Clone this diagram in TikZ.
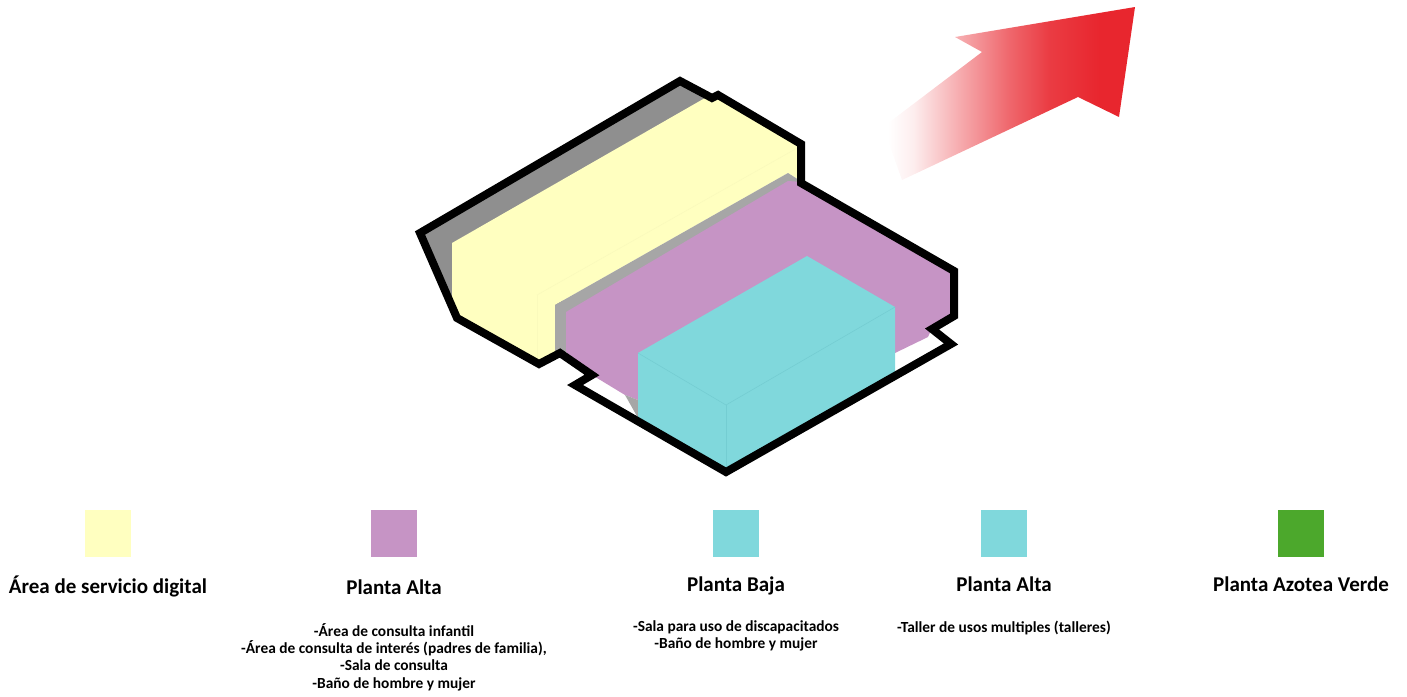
\documentclass[tikz,border=0pt]{standalone}
\usepackage{fontspec}
\setmainfont{Carlito}
\usepackage{xcolor}
\usetikzlibrary{positioning}

\definecolor{servyellow}{HTML}{FFFFC0}
\definecolor{altapurple}{HTML}{C694C5}
\definecolor{bajacyan}{HTML}{80D8DC}
\definecolor{edgecyan}{HTML}{74CDD2}
\definecolor{edgeyellow}{HTML}{FAFABC}
\definecolor{roofgray}{HTML}{8F8F8F}
\definecolor{stepgray}{HTML}{A6A6A6}
\definecolor{roofgreen}{HTML}{4CA82C}
\definecolor{arrowred}{HTML}{E8262E}

\pgfdeclarehorizontalshading{arrowfade}{100bp}{
    color(0bp)=(white); color(26bp)=(white); color(31bp)=(white!92!arrowred);
    color(40bp)=(white!62!arrowred); color(50bp)=(white!30!arrowred);
    color(58bp)=(white!10!arrowred); color(68bp)=(arrowred); color(100bp)=(arrowred)}

\begin{document}
\begin{tikzpicture}[
    x=1pt, y=-1pt,
    swatch/.style={minimum width=46pt, minimum height=47pt, inner sep=0pt, fill=#1},
    title/.style={font=\fontsize{21}{23}\selectfont\bfseries, inner sep=0pt},
    desc/.style={font=\fontsize{15.4}{17.3}\selectfont\bfseries, align=center, inner sep=0pt},
    outline/.style={draw=black, line width=8pt, line join=miter, miter limit=6},
    faint/.style={draw=#1, line width=0.6pt},
]
\useasboundingbox (0,0) rectangle (1407,696);

% --- Arrow ---
\shade[shading=arrowfade] (1135,7) -- (955,37) -- (982,52) -- (883,127) -- (902,180)
    -- (1078,97) -- (1119,117) -- cycle;

% --- Roof and yellow volume ---
\fill[roofgray] (420,232) -- (680,80) -- (716,98) -- (556,310) -- (456,318) -- cycle;
\fill[servyellow] (452,243) -- (705,98) -- (718,93) -- (802,144) -- (802,182)
    -- (788,173) -- (555,305) -- (555,353) -- (539,364) -- (456,318) -- (452,310) -- cycle;
\draw[faint=edgeyellow] (537,295) -- (799,147);
\draw[faint=edgeyellow] (537,295) -- (537,360);

% --- Purple volume ---
\fill[stepgray] (555,305) -- (788,173) -- (802,182) -- (566,352) -- (555,353) -- cycle;
\fill[altapurple] (566,312) -- (788,181) -- (802,182) -- (957,270) -- (957,317)
    -- (932,328) -- (928,337) -- (895,353) -- (800,400) -- (638,400) -- (625,395)
    -- (597,378) -- (593,376) -- (566,352) -- cycle;
\fill[stepgray] (625,395) -- (638,400) -- (638,418) -- cycle;

% --- Cyan volume ---
\fill[bajacyan] (638,353) -- (807,256) -- (895,307) -- (895,373) -- (726,472)
    -- (638,418) -- cycle;
\draw[faint=edgecyan] (638,353) -- (726,405) -- (895,307);
\draw[faint=edgecyan] (726,405) -- (726,472);

% --- Outline ---
\draw[outline] (420,233) -- (680,81) -- (712,98) -- (718,95) -- (801,144) -- (801,183)
    -- (954,271) -- (954,316) -- (932,329) -- (951,344) -- (726,472) -- (575,385)
    -- (592,375) -- (560,353) -- (539,364) -- (457,318) -- cycle;

% --- Legend ---
\node[swatch=servyellow] (sw1) at (108,533.5) {};
\node[swatch=altapurple] (sw2) at (394,533.5) {};
\node[swatch=bajacyan] (sw3) at (736,533.5) {};
\node[swatch=bajacyan] (sw4) at (1004,533.5) {};
\node[swatch=roofgreen] (sw5) at (1301,533.5) {};

\node[title, below=18pt of sw1] (tserv) {Área de servicio digital};
\node[title, below=22pt of sw2] (talta) {Planta Alta};
\node[title, below=19pt of sw3] (tbaja) {Planta Baja};
\node[title, below=19pt of sw4] (taller) {Planta Alta};
\node[title, below=19pt of sw5] (tazotea) {Planta Azotea Verde};

\node[desc, below=28.5pt of talta] (dalta) {-Área de consulta infantil\\-Área de consulta de interés (padres de familia),\\-Sala de consulta\\-Baño de hombre y mujer};
\node[desc, below=25.5pt of tbaja] (dbaja) {-Sala para uso de discapacitados\\-Baño de hombre y mujer};
\node[desc, below=29pt of taller] (dtaller) {-Taller de usos multiples (talleres)};

\end{tikzpicture}
\end{document}
